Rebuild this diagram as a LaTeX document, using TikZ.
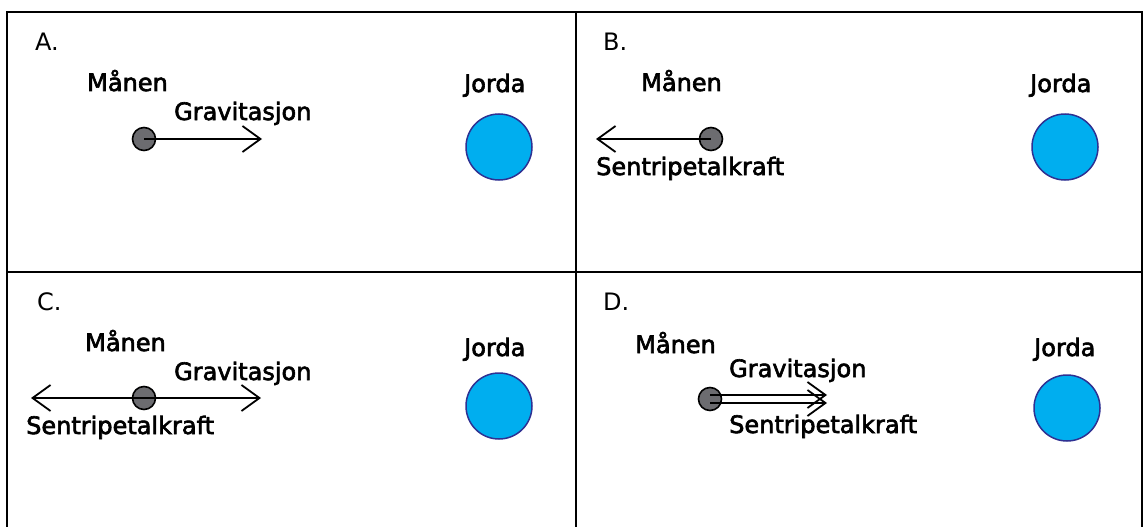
\documentclass[tikz,border=0pt]{standalone}
\usepackage{fontspec}
\setmainfont{DejaVu Sans}
\newfontfamily\lblfont{DejaVu Sans}[FakeBold=2.6]
\usetikzlibrary{arrows.meta}
\definecolor{earthfill}{RGB}{0,174,239}
\definecolor{earthline}{RGB}{46,49,146}
\definecolor{moonfill}{RGB}{108,108,112}
\begin{document}
\begin{tikzpicture}[x=1pt,y=-1pt,
  frame/.style={line width=2pt},
  lbl/.style={anchor=base west, inner sep=0pt, font=\lblfont\fontsize{24}{28}\selectfont},
  tag/.style={anchor=base west, inner sep=0pt, font=\fontsize{24}{28}\selectfont},
  moon/.style={circle, draw, line width=1.6pt, fill=moonfill, minimum size=23pt, inner sep=0pt},
  earth/.style={circle, draw=earthline, line width=1.5pt, fill=earthfill, minimum size=66pt, inner sep=0pt},
  force/.style={line width=1.8pt, -{Straight Barb[length=18pt,width=26pt]}}]
\useasboundingbox (0,0) rectangle (1143,527);
% frame
\draw[frame] (7,530) -- (7,12) -- (1142,12) -- (1142,530);
\draw[frame] (576,12) -- (576,530);
\draw[frame] (7,272) -- (1142,272);

% Panel A
\node[tag] (tA) at (35,51) {A.};
\node[lbl] (mnA) at (87,91) {Månen};
\node[lbl] (grA) at (174,120) {Gravitasjon};
\node[lbl] (jA) at (464,92) {Jorda};
\node[earth] (eA) at (499,147) {};
\node[moon] (mA) at (144,139) {};
\coordinate (gA) at (262,139);
\draw[force] (mA.center) -- (gA);

% Panel B
\node[tag] (tB) at (603,51) {B.};
\node[lbl] (mnB) at (641,91) {Månen};
\node[lbl] (sB) at (596,175) {Sentripetalkraft};
\node[lbl] (jB) at (1030,92) {Jorda};
\node[earth] (eB) at (1065,147) {};
\node[moon] (mB) at (711,139) {};
\coordinate (cB) at (596,139);
\draw[force] (mB.center) -- (cB);

% Panel C
\node[tag] (tC) at (37,310) {C.};
\node[lbl] (mnC) at (85,351) {Månen};
\node[lbl] (grC) at (174,380) {Gravitasjon};
\node[lbl] (sC) at (26,434) {Sentripetalkraft};
\node[lbl] (jC) at (464,356) {Jorda};
\node[earth] (eC) at (499,406) {};
\node[moon] (mC) at (144,398) {};
\coordinate (gC) at (261,398);
\coordinate (cC) at (31,398);
\draw[force] (mC.center) -- (gC);
\draw[force] (mC.center) -- (cC);

% Panel D
\node[tag] (tD) at (603,310) {D.};
\node[lbl] (mnD) at (635,353) {Månen};
\node[lbl] (grD) at (729,377) {Gravitasjon};
\node[lbl] (sD) at (729,433) {Sentripetalkraft};
\node[lbl] (jD) at (1034,356) {Jorda};
\node[earth] (eD) at (1067,408) {};
\node[moon] (mD) at (710,399) {};
\coordinate (dTopS) at (710,395);
\coordinate (dTopE) at (827,395);
\coordinate (dBotS) at (710,403);
\coordinate (dBotE) at (827,403);
\draw[force] (dTopS) -- (dTopE);
\draw[force] (dBotS) -- (dBotE);
\end{tikzpicture}
\end{document}
